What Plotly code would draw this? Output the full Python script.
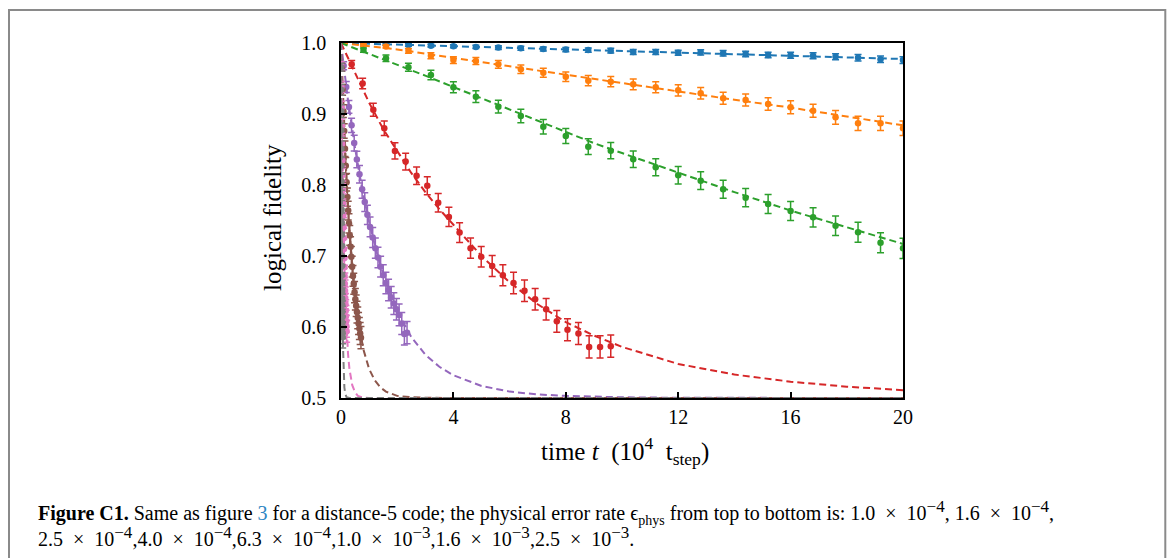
import plotly.graph_objects as go

# ---------------- data ----------------
colors = ["#1f77b4", "#ff7f0e", "#2ca02c", "#d62728", "#9467bd", "#8c564b", "#e377c2", "#7f7f7f"]

t_slow = [0.8, 1.6, 2.4, 3.2, 4.0, 4.8, 5.6, 6.4, 7.2, 8.0, 8.8, 9.6, 10.4, 11.2, 12.0,
          12.8, 13.6, 14.4, 15.2, 16.0, 16.8, 17.6, 18.4, 19.2, 20.0]

blue_f = [0.9990, 0.9982, 0.9972, 0.9963, 0.9954, 0.9944, 0.9935, 0.9926, 0.9917, 0.9908, 0.9900,
          0.9892, 0.9873, 0.9873, 0.9863, 0.9869, 0.9855, 0.9845, 0.9831, 0.9827, 0.9821, 0.9807,
          0.9793, 0.9770, 0.9760]
blue_err = [0.0010, 0.0014, 0.0017, 0.0019, 0.0021, 0.0023, 0.0025, 0.0027, 0.0028, 0.0030, 0.0031,
            0.0033, 0.0034, 0.0035, 0.0036, 0.0037, 0.0038, 0.0039, 0.0040, 0.0041, 0.0042, 0.0043,
            0.0045, 0.0046, 0.0047]

orange_f = [0.997, 0.995, 0.989, 0.982, 0.976, 0.9746, 0.970, 0.963, 0.958, 0.9525, 0.947, 0.9455,
            0.9418, 0.9376, 0.9334, 0.9292, 0.9221, 0.9197, 0.9141, 0.9094, 0.9046, 0.8954, 0.8869,
            0.8869, 0.8799]
orange_err = [0.0017, 0.0022, 0.0033, 0.0042, 0.0048, 0.0050, 0.0054, 0.0060, 0.0063, 0.0067, 0.0071,
              0.0072, 0.0075, 0.0077, 0.0079, 0.0081, 0.0085, 0.0086, 0.0089, 0.0091, 0.0093, 0.0097,
              0.0100, 0.0100, 0.0103]

green_f = [0.990, 0.9785, 0.9658, 0.9549, 0.9376, 0.9244, 0.9103, 0.8972, 0.8821, 0.8690, 0.8540,
           0.8483, 0.8362, 0.8249, 0.8137, 0.8061, 0.7940, 0.7822, 0.7732, 0.7634, 0.7545, 0.7427,
           0.7334, 0.7187, 0.7108]
green_err = [0.0031, 0.0046, 0.0057, 0.0066, 0.0077, 0.0083, 0.0090, 0.0096, 0.0102, 0.0106, 0.0112,
             0.0114, 0.0117, 0.0120, 0.0123, 0.0125, 0.0128, 0.0130, 0.0133, 0.0134, 0.0136, 0.0138,
             0.0140, 0.0142, 0.0143]

t_red = [0.38, 0.77, 1.15, 1.54, 1.92, 2.30, 2.69, 3.07, 3.46, 3.84, 4.22, 4.61, 4.99, 5.38, 5.76,
         6.14, 6.53, 6.91, 7.30, 7.68, 8.06, 8.45, 8.83, 9.22, 9.60]
red_f = [0.970, 0.943, 0.906, 0.880, 0.848, 0.833, 0.813, 0.799, 0.775, 0.755, 0.733, 0.711, 0.699,
         0.686, 0.673, 0.662, 0.651, 0.639, 0.625, 0.608, 0.596, 0.591, 0.572, 0.572, 0.573]
red_err = [0.0054, 0.0073, 0.0092, 0.0103, 0.0114, 0.0118, 0.0123, 0.0127, 0.0132, 0.0136, 0.0140,
           0.0143, 0.0145, 0.0147, 0.0148, 0.0150, 0.0151, 0.0152, 0.0153, 0.0154, 0.0155, 0.0155,
           0.0156, 0.0156, 0.0156]

t_purple = [0.094, 0.188, 0.282, 0.376, 0.470, 0.564, 0.658, 0.752, 0.846, 0.940, 1.034, 1.128,
            1.222, 1.316, 1.410, 1.504, 1.598, 1.692, 1.786, 1.880, 1.974, 2.068, 2.162, 2.256, 2.350]
purple_f = [0.968, 0.938, 0.910, 0.884, 0.859, 0.836, 0.815, 0.794, 0.776, 0.758, 0.741, 0.726,
            0.711, 0.698, 0.685, 0.673, 0.662, 0.652, 0.642, 0.633, 0.625, 0.617, 0.605, 0.590, 0.592]

t_brown = [0.028, 0.057, 0.085, 0.114, 0.142, 0.170, 0.199, 0.227, 0.256, 0.284, 0.312, 0.341,
           0.369, 0.398, 0.426, 0.454, 0.483, 0.511, 0.540, 0.568, 0.596, 0.625, 0.653, 0.682, 0.710]
brown_f = [0.966, 0.934, 0.904, 0.876, 0.851, 0.827, 0.804, 0.783, 0.764, 0.746, 0.729, 0.713,
           0.699, 0.685, 0.672, 0.661, 0.649, 0.639, 0.630, 0.621, 0.613, 0.605, 0.598, 0.591, 0.585]

t_pink = [0.008, 0.016, 0.024, 0.032, 0.040, 0.048, 0.056, 0.064, 0.072, 0.080, 0.088, 0.096,
          0.104, 0.112, 0.120, 0.128, 0.136, 0.144, 0.152, 0.160, 0.168, 0.176, 0.184, 0.192, 0.200]
pink_f = [0.968, 0.938, 0.909, 0.883, 0.858, 0.835, 0.814, 0.793, 0.774, 0.757, 0.740, 0.725,
          0.710, 0.697, 0.684, 0.672, 0.661, 0.651, 0.641, 0.632, 0.623, 0.615, 0.608, 0.601, 0.594]

t_gray = [0.0024, 0.0048, 0.0072, 0.0096, 0.0120, 0.0144, 0.0168, 0.0192, 0.0216, 0.0240, 0.0264,
          0.0288, 0.0312, 0.0336, 0.0360, 0.0384, 0.0408, 0.0432, 0.0456, 0.0480, 0.0504, 0.0528,
          0.0552, 0.0576, 0.0600]
gray_f = [0.966, 0.934, 0.904, 0.877, 0.851, 0.827, 0.805, 0.784, 0.765, 0.747, 0.730, 0.714,
          0.700, 0.686, 0.673, 0.662, 0.651, 0.640, 0.631, 0.622, 0.614, 0.606, 0.599, 0.592, 0.586]

fast_err = [0.0056, 0.0076, 0.0090, 0.0101, 0.0110, 0.0117, 0.0123, 0.0128, 0.0132, 0.0135, 0.0139,
            0.0141, 0.0143, 0.0145, 0.0147, 0.0148, 0.0150, 0.0151, 0.0152, 0.0153, 0.0153, 0.0154,
            0.0155, 0.0155, 0.0156]

# fitted (dashed) curves
blue_fit_t = [0, 5, 10, 15, 20]
blue_fit_f = [1.0, 0.9942, 0.9886, 0.9830, 0.9775]
orange_fit_t = [0, 1, 2, 4, 6, 8, 10, 12, 14, 16, 18, 20]
orange_fit_f = [1.0, 0.996, 0.991, 0.979, 0.967, 0.955, 0.943, 0.932, 0.920, 0.909, 0.897, 0.884]
green_fit_t = [0, 1, 2, 3, 4, 5, 6, 7, 8, 9, 10, 12, 14, 16, 18, 20]
green_fit_f = [1.0, 0.985, 0.970, 0.954, 0.938, 0.922, 0.906, 0.890, 0.874, 0.859, 0.845, 0.817,
               0.790, 0.764, 0.740, 0.717]
red_fit_t = [0, 0.5, 1, 1.5, 2, 2.5, 3, 3.5, 4, 5, 6, 7, 8, 9, 10, 12, 14, 16, 18, 20]
red_fit_f = [1.0, 0.958, 0.916, 0.879, 0.847, 0.817, 0.790, 0.766, 0.744, 0.700, 0.663, 0.632,
             0.607, 0.588, 0.572, 0.548, 0.533, 0.523, 0.516, 0.511]
purple_fit_t = [0, 0.25, 0.5, 0.75, 1.0, 1.25, 1.5, 1.75, 2.0, 2.5, 3.0, 3.5, 4.0, 5.0, 6.0, 7.0,
                8.0, 9.0, 10.0, 12.0, 16.0, 20.0]
purple_fit_f = [1.0, 0.919, 0.852, 0.795, 0.748, 0.708, 0.674, 0.646, 0.622, 0.586, 0.561, 0.544,
                0.532, 0.517, 0.509, 0.505, 0.503, 0.5015, 0.501, 0.5003, 0.5, 0.5]
brown_fit_t = [0, 0.1, 0.2, 0.3, 0.4, 0.5, 0.6, 0.7, 0.8, 1.0, 1.2, 1.4, 1.6, 1.8, 2.0, 2.5, 3.0,
               4.0, 20.0]
brown_fit_f = [1.0, 0.889, 0.803, 0.736, 0.684, 0.643, 0.612, 0.587, 0.568, 0.541, 0.525, 0.515,
               0.509, 0.506, 0.503, 0.501, 0.5003, 0.5, 0.5]
pink_fit_t = [0, 0.025, 0.05, 0.075, 0.1, 0.15, 0.2, 0.25, 0.3, 0.35, 0.4, 0.5, 0.6, 0.8, 1.0, 20.0]
pink_fit_f = [1.0, 0.906, 0.830, 0.768, 0.717, 0.643, 0.594, 0.562, 0.541, 0.527, 0.518, 0.508,
              0.503, 0.5006, 0.5001, 0.5]
gray_fit_t = [0, 0.01, 0.02, 0.03, 0.04, 0.05, 0.06, 0.08, 0.1, 0.12, 0.15, 0.2, 0.3, 20.0]
gray_fit_f = [1.0, 0.872, 0.778, 0.707, 0.654, 0.615, 0.586, 0.548, 0.526, 0.515, 0.506, 0.501,
              0.5001, 0.5]

x_ticks = [0, 4, 8, 12, 16, 20]
y_ticks = [0.5, 0.6, 0.7, 0.8, 0.9, 1.0]

# physical error rates listed in the caption (mantissa, exponent)
rates = [("1.0", "4"), ("1.6", "4"), ("2.5", "4"), ("4.0", "4"), ("6.3", "4"),
         ("1.0", "3"), ("1.6", "3"), ("2.5", "3")]

series = [
    (t_slow, blue_f, blue_err, blue_fit_t, blue_fit_f),
    (t_slow, orange_f, orange_err, orange_fit_t, orange_fit_f),
    (t_slow, green_f, green_err, green_fit_t, green_fit_f),
    (t_red, red_f, red_err, red_fit_t, red_fit_f),
    (t_purple, purple_f, fast_err, purple_fit_t, purple_fit_f),
    (t_brown, brown_f, fast_err, brown_fit_t, brown_fit_f),
    (t_pink, pink_f, fast_err, pink_fit_t, pink_fit_f),
    (t_gray, gray_f, fast_err, gray_fit_t, gray_fit_f),
]

# ---------------- figure ----------------
W, H = 1171, 558
L, R, T, B = 341, 903, 43, 398  # plot area in pixels


def px(x):
    return (x - L) / (R - L)


def py(y):
    return (B - y) / (B - T)


fig = go.Figure()
for (tx, fy, er, ft, ff), c in zip(series, colors):
    fig.add_trace(go.Scatter(
        x=tx, y=fy, mode="markers",
        marker=dict(color=c, size=6.5),
        error_y=dict(type="data", array=er, visible=True, color=c, thickness=1.5, width=3.5),
        showlegend=False,
    ))
    fig.add_trace(go.Scatter(
        x=ft, y=ff, mode="lines",
        line=dict(color=c, width=2, dash="7px,4px"),
        showlegend=False,
    ))

serif = "Liberation Serif"
fig.update_xaxes(
    range=[0, 20], tickvals=x_ticks, ticktext=[str(v) for v in x_ticks],
    ticks="inside", ticklen=6, tickwidth=1.5, tickcolor="black",
    showline=True, linecolor="black", linewidth=1.5, mirror=True,
    showgrid=False, zeroline=False,
    tickfont=dict(family=serif, size=20, color="black"),
)
fig.update_yaxes(
    range=[0.5, 1.0], tickvals=y_ticks, ticktext=["%.1f" % v for v in y_ticks],
    ticks="inside", ticklen=6, tickwidth=1.5, tickcolor="black",
    showline=True, linecolor="black", linewidth=1.5, mirror=True,
    showgrid=False, zeroline=False, ticklabelstandoff=9,
    tickfont=dict(family=serif, size=20, color="black"),
)

NB = "\u00a0"
SP = NB + NB  # wider math spacing around the times sign


def rate_txt(m, e):
    return (m + SP + "×" + SP + "10<sup><span style='font-size:17px'>−" + e + "</span></sup>")


line1 = ("<b>Figure C1.</b> Same as figure <span style='color:#2f86c3'>3</span> for a distance-5 code; "
         "the physical error rate ϵ<sub>phys</sub> from top to bottom is: "
         + ", ".join(rate_txt(m, e) for m, e in rates[:2]) + ",")
line2 = ",".join(rate_txt(m, e) for m, e in rates[2:]) + "."

annotations = [
    dict(text="logical fidelity", x=px(272), y=py(218), xref="paper", yref="paper",
         textangle=-90, showarrow=False, xanchor="center", yanchor="middle",
         font=dict(family=serif, size=25, color="black")),
    dict(text="time" + NB + "<i>t</i>" + NB + NB + "(10<sup>4</sup>" + NB + NB + "t<sub>step</sub>)",
         x=px(625), y=py(451),
         xref="paper", yref="paper", showarrow=False, xanchor="center", yanchor="middle",
         font=dict(family=serif, size=25, color="black")),
    dict(text=line1 + "<br>" + line2,
         x=px(36), y=py(523), xref="paper", yref="paper", showarrow=False,
         xanchor="left", yanchor="middle", align="left",
         font=dict(family=serif, size=20, color="black")),
]

shapes = [
    dict(type="rect", xref="paper", yref="paper", x0=px(9), x1=px(1165.3), y0=py(10), y1=py(600),
         line=dict(color="#8a8a8a", width=2), fillcolor="rgba(0,0,0,0)", layer="below"),
]

fig.update_layout(
    width=W, height=H, autosize=False,
    margin=dict(l=L, r=W - R, t=T, b=H - B, pad=0),
    paper_bgcolor="white", plot_bgcolor="white",
    annotations=annotations, shapes=shapes, showlegend=False,
)

fig.write_html("out.html", config={"displayModeBar": False},
               post_script="document.body.style.margin='0';document.body.style.overflow='hidden';")
